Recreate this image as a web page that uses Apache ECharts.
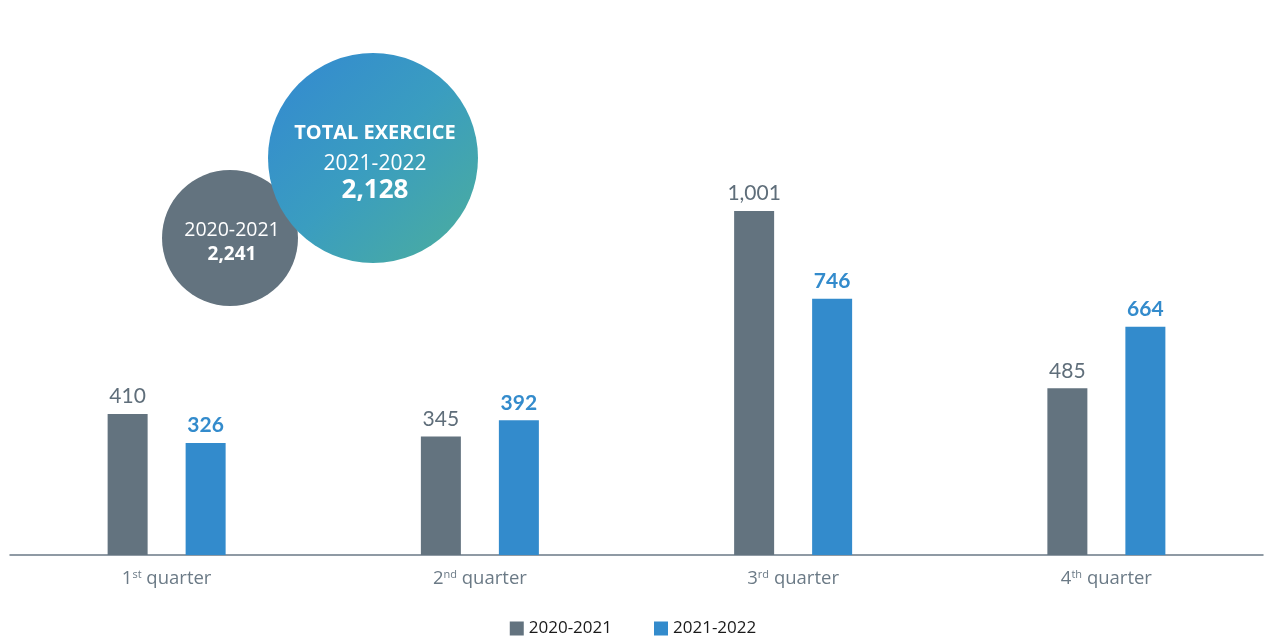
<!DOCTYPE html>
<html>
<head>
<meta charset="utf-8">
<script src="https://cdn.jsdelivr.net/npm/echarts@6/dist/echarts.min.js"></script>
<style>
  html, body { margin: 0; padding: 0; background: #ffffff; }
  #chart { width: 1266px; height: 637px; }
</style>
</head>
<body>
<div id="chart"></div>
<script>
// Quarterly figures for the two fiscal years
const quarters = ['1st', '2nd', '3rd', '4th'];
const seriesNames = ['2020-2021', '2021-2022'];
const values2020 = [410, 345, 1001, 485];
const values2021 = [326, 392, 746, 664];

const GREY = '#63737f';
const BLUE = '#338bcc';
const FONT = 'Lato, "Open Sans", sans-serif';
const WIDE = '"Open Sans", Lato, sans-serif';

const sum = arr => arr.reduce((a, b) => a + b, 0);
const fmt = v => v.toLocaleString('en-US');
const total2020 = sum(values2020);
const total2021 = sum(values2021);

const chart = echarts.init(document.getElementById('chart'));

chart.setOption({
  animation: false,
  grid: { left: 10, right: 3, top: 55, bottom: 82, containLabel: false },
  legend: {
    data: seriesNames,
    top: 615,
    left: 'center',
    itemWidth: 14,
    itemHeight: 14,
    itemGap: 42,
    icon: 'rect',
    textStyle: { fontFamily: WIDE, fontSize: 17, color: '#1a1a1a' }
  },
  xAxis: {
    type: 'category',
    data: quarters,
    axisLine: { lineStyle: { color: '#6b7a86', width: 1.5 } },
    axisTick: { show: false },
    axisLabel: {
      margin: 14,
      formatter: q => '{n|' + q[0] + '}{s|' + q.slice(1) + '}{t| quarter}',
      rich: {
        n: { fontFamily: WIDE, fontSize: 18.5, color: '#6b7a86', verticalAlign: 'bottom' },
        s: { fontFamily: WIDE, fontSize: 11, color: '#6b7a86', verticalAlign: 'top', padding: [0, 0, 8, 0] },
        t: { fontFamily: WIDE, fontSize: 18.5, color: '#6b7a86', verticalAlign: 'bottom' }
      }
    }
  },
  yAxis: {
    type: 'value',
    min: 0,
    max: 1455,
    show: false,
    splitLine: { show: false }
  },
  series: [
    {
      name: seriesNames[0],
      type: 'bar',
      data: values2020,
      barWidth: 40,
      barGap: '95%',
      itemStyle: { color: GREY },
      label: {
        show: true,
        position: 'top',
        distance: 7,
        formatter: p => fmt(p.value),
        fontFamily: FONT,
        fontSize: 21,
        color: '#5f6e7a'
      }
    },
    {
      name: seriesNames[1],
      type: 'bar',
      data: values2021,
      barWidth: 40,
      itemStyle: { color: BLUE },
      label: {
        show: true,
        position: 'top',
        distance: 7,
        formatter: p => fmt(p.value),
        fontFamily: FONT,
        fontSize: 21,
        fontWeight: 'bold',
        color: BLUE
      }
    }
  ],
  graphic: [
    {
      type: 'circle',
      shape: { cx: 230, cy: 238, r: 68 },
      style: { fill: GREY },
      z: 10
    },
    {
      type: 'text',
      style: {
        x: 232, y: 230,
        text: seriesNames[0],
        fill: '#ffffff',
        font: '19.5px ' + WIDE,
        textAlign: 'center',
        textVerticalAlign: 'middle'
      },
      z: 11
    },
    {
      type: 'text',
      style: {
        x: 232, y: 255,
        text: fmt(total2020),
        fill: '#ffffff',
        font: 'bold 19px ' + WIDE,
        textAlign: 'center',
        textVerticalAlign: 'middle'
      },
      z: 11
    },
    {
      type: 'circle',
      shape: { cx: 373, cy: 158, r: 105 },
      style: {
        fill: {
          type: 'linear', x: 0, y: 0, x2: 1, y2: 1,
          colorStops: [
            { offset: 0, color: '#3388d2' },
            { offset: 0.5, color: '#3a9dc0' },
            { offset: 1, color: '#4cae9c' }
          ]
        }
      },
      z: 12
    },
    {
      type: 'text',
      style: {
        x: 375, y: 133,
        text: 'TOTAL EXERCICE',
        fill: '#ffffff',
        font: 'bold 20px ' + WIDE,
        textAlign: 'center',
        textVerticalAlign: 'middle'
      },
      z: 13
    },
    {
      type: 'text',
      style: {
        x: 375, y: 164,
        text: seriesNames[1],
        fill: '#ffffff',
        font: '21px ' + WIDE,
        textAlign: 'center',
        textVerticalAlign: 'middle'
      },
      z: 13
    },
    {
      type: 'text',
      style: {
        x: 375, y: 191,
        text: fmt(total2021),
        fill: '#ffffff',
        font: 'bold 26px ' + WIDE,
        textAlign: 'center',
        textVerticalAlign: 'middle'
      },
      z: 13
    }
  ]
});
</script>
</body>
</html>
